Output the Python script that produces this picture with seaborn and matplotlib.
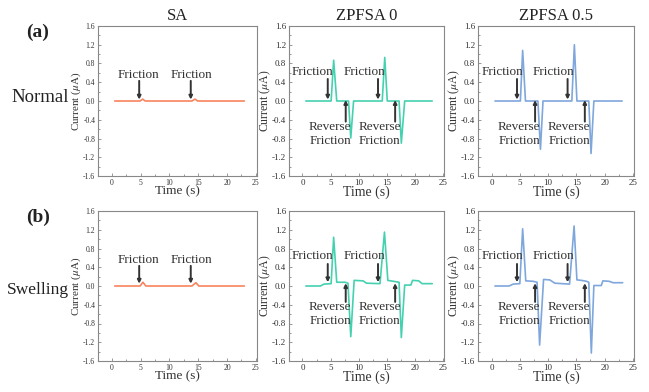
import matplotlib
matplotlib.use("Agg")
import matplotlib.pyplot as plt
from matplotlib.ticker import MultipleLocator
import seaborn as sns

# time (s) / current (uA) breakpoints
sa_normal_t = [0.5, 4.9, 5.35, 5.8, 13.9, 14.45, 14.9, 23.0]
sa_normal_i = [0.0, 0.0, 0.04, 0.0, 0.0, 0.04, 0.0, 0.0]

z0_normal_t = [0.6, 5.1, 5.55, 6.1, 8.2, 8.6, 9.1, 14.2, 14.65, 15.1, 17.2, 17.6, 18.2, 23.1]
z0_normal_i = [0.0, 0.0, 0.87, 0.0, 0.0, -0.79, 0.0, 0.0, 0.93, 0.0, 0.0, -0.9, 0.0, 0.0]

z5_normal_t = [0.6, 5.1, 5.5, 6.0, 8.2, 8.65, 9.1, 14.2, 14.65, 15.1, 17.2, 17.6, 18.1, 23.1]
z5_normal_i = [0.0, 0.0, 1.08, 0.0, 0.0, -1.03, 0.0, 0.0, 1.2, 0.0, 0.0, -1.12, 0.0, 0.0]

sa_swell_t = [0.5, 4.9, 5.4, 5.9, 13.9, 14.6, 15.1, 23.0]
sa_swell_i = [0.0, 0.0, 0.08, 0.0, 0.0, 0.07, 0.0, 0.0]

z0_swell_t = [0.6, 3.2, 3.8, 5.1, 5.55, 6.1, 7.6, 8.1, 8.6, 9.2, 10.8, 11.4, 13.8, 14.6,
              15.2, 16.2, 17.2, 17.6, 18.2, 19.3, 19.6, 20.7, 21.3, 23.1]
z0_swell_i = [0.0, 0.0, 0.04, 0.05, 1.04, 0.08, 0.08, 0.06, -1.08, 0.12, 0.11, 0.06, 0.05, 1.15,
              0.12, 0.1, 0.08, -1.1, 0.02, 0.02, 0.12, 0.11, 0.05, 0.05]

z5_swell_t = [0.6, 3.1, 3.8, 5.0, 5.5, 6.05, 7.35, 8.05, 8.5, 9.2, 10.3, 11.2, 13.8, 14.6,
              15.1, 15.9, 16.8, 17.2, 17.65, 18.1, 19.4, 19.7, 20.8, 21.5, 23.2]
z5_swell_i = [0.0, 0.0, 0.04, 0.05, 1.22, 0.11, 0.1, 0.08, -1.26, 0.14, 0.13, 0.06, 0.04, 1.28,
              0.13, 0.12, 0.1, 0.08, -1.43, 0.01, 0.01, 0.11, 0.1, 0.07, 0.07]

col_titles = ["SA", "ZPFSA 0", "ZPFSA 0.5"]
row_titles = ["Normal", "Swelling"]
row_tags = ["(a)", "(b)"]
col_colors = ["#f7845f", "#45d1b0", "#7fa7dc"]

series = [
    [(sa_normal_t, sa_normal_i), (z0_normal_t, z0_normal_i), (z5_normal_t, z5_normal_i)],
    [(sa_swell_t, sa_swell_i), (z0_swell_t, z0_swell_i), (z5_swell_t, z5_swell_i)],
]

sns.set_theme(style="ticks")
plt.rcParams["font.family"] = ["Liberation Serif", "DejaVu Serif"]
plt.rcParams["mathtext.fontset"] = "stix"

W, H = 649, 392
fig = plt.figure(figsize=(W / 100, H / 100), dpi=100)

# axes boxes in pixels: (left, right) per column, (top, bottom) per row
col_px = [(98, 257), (289, 444), (478, 634)]
row_px = [(26, 176), (211, 361)]

txt_col = "#333333"
spine_col = "#888888"


def arrow(ax, x, y0, y1):
    ax.annotate("", xy=(x, y1), xytext=(x, y0),
                arrowprops=dict(arrowstyle="-|>", color="#333333", lw=1.4,
                                mutation_scale=5, shrinkA=0, shrinkB=0))


for r in range(2):
    for c in range(3):
        l, rr = col_px[c]
        t, b = row_px[r]
        ax = fig.add_axes([l / W, 1 - b / H, (rr - l) / W, (b - t) / H])
        tt, ii = series[r][c]
        sns.lineplot(x=tt, y=ii, ax=ax, color=col_colors[c], lw=1.2,
                     estimator=None, sort=False)
        ax.set_xlim(-2.4, 25.2)
        ax.set_ylim(-1.6, 1.6)
        ax.xaxis.set_major_locator(MultipleLocator(5))
        ax.xaxis.set_minor_locator(MultipleLocator(2.5))
        ax.yaxis.set_minor_locator(MultipleLocator(0.2))
        ax.set_yticks([-1.6, -1.2, -0.8, -0.4, 0.0, 0.4, 0.8, 1.2, 1.6])
        ax.set_yticklabels(["-1.6", "-1.2", "-0.8", "-0.4", "0.0", "0.4", "0.8", "1.2", "1.6"])
        fs = 5.5 if c == 0 else 6.5
        ax.tick_params(which="both", direction="in", colors=spine_col,
                       labelcolor=txt_col, labelsize=fs, width=0.6, pad=2)
        ax.tick_params(which="major", length=2.5)
        ax.tick_params(which="minor", length=1.5)
        for s in ax.spines.values():
            s.set_color(spine_col)
            s.set_linewidth(0.8)
        ax.set_xlabel("Time (s)", fontsize=10 if c else 9.5, color=txt_col, labelpad=-1)
        ax.set_ylabel("Current ($\\mu$A)", fontsize=8.5 if c else 8, color=txt_col,
                      va="center")
        ax.yaxis.set_label_coords((-24 if c else -22) / (rr - l), 0.5)
        if r == 0:
            ax.set_title(col_titles[c], fontsize=12, color="#222222", pad=4)

        if c == 0:
            ytxt = 0.56
            ybot = 0.03 if r == 0 else 0.05
            for xt, xa in [(4.7, 4.75), (13.9, 13.7)]:
                ax.text(xt, ytxt, "Friction", ha="center", va="center",
                        fontsize=9.5, color=txt_col)
                arrow(ax, xa, 0.43, ybot)
        else:
            ytxt = 0.62 if r == 0 else 0.65
            base = 0.03 if r == 0 else 0.08
            for xt, xa in [(1.85, 4.5), (11.0, 13.45)]:
                ax.text(xt, ytxt, "Friction", ha="center", va="center",
                        fontsize=9.5, color=txt_col)
                arrow(ax, xa, 0.47, base)
            yrev = -0.7 if r == 0 else -0.6
            for xt, xa in [(4.9, 7.7), (13.75, 16.5)]:
                ax.text(xt, yrev, "Reverse\nFriction", ha="center", va="center",
                        fontsize=9.5, color=txt_col, linespacing=1.2)
                arrow(ax, xa, yrev + 0.26, 0.02 if r == 0 else 0.06)

for r in range(2):
    t, b = row_px[r]
    fig.text(38 / W, 1 - (t + 6) / H, row_tags[r], ha="center", va="center",
             fontsize=14, fontweight="bold", color="#222222")
    fig.text((40 if r == 0 else 38) / W, 1 - (t + 71 + (0 if r == 0 else 8)) / H,
             row_titles[r], ha="center", va="center",
             fontsize=13.5 if r == 0 else 12.5, color="#222222")

fig.savefig("out.png", dpi=100)
